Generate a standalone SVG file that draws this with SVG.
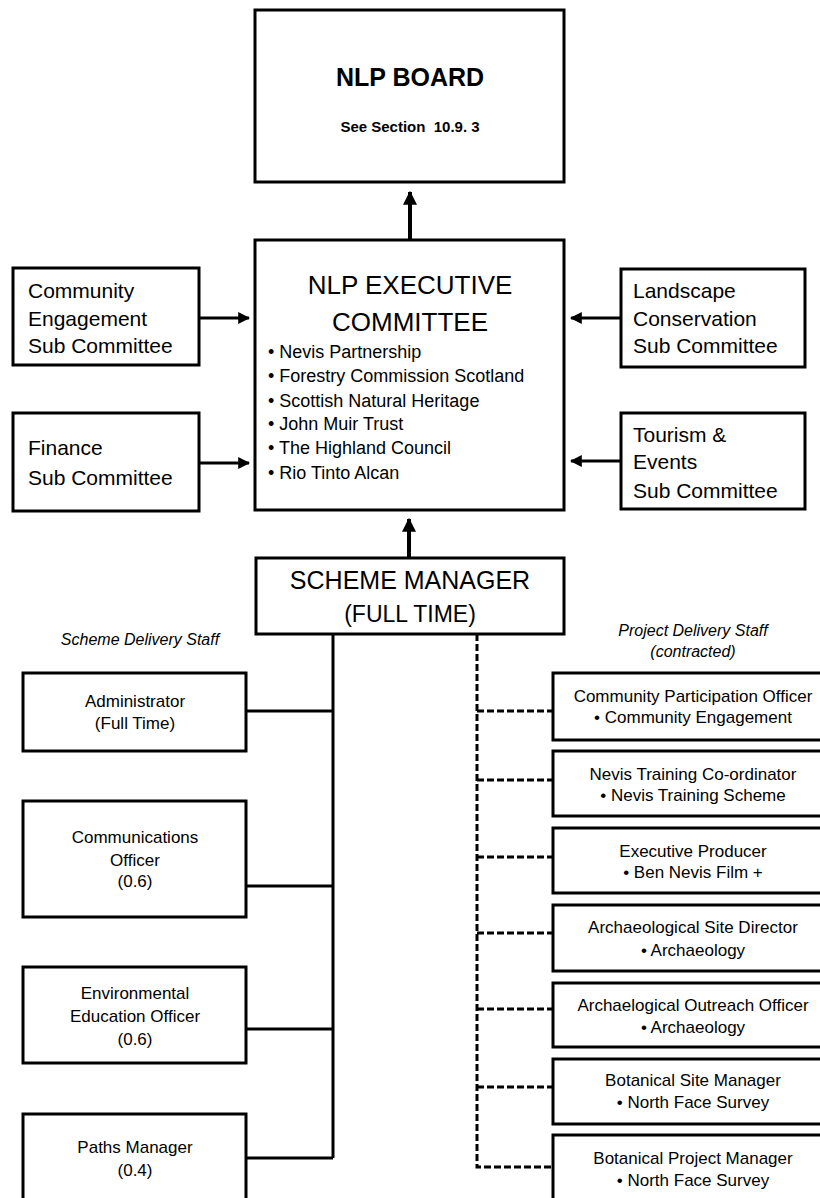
<svg xmlns="http://www.w3.org/2000/svg" width="820" height="1198" viewBox="0 0 820 1198">
<style>
.box{fill:#fff;stroke:#000;stroke-width:3}
.t{font-family:"Liberation Sans",Arial,sans-serif;fill:#000}
.c{text-anchor:middle}
.ln{stroke:#000;stroke-width:3;fill:none}
.dash{stroke:#000;stroke-width:3;fill:none;stroke-dasharray:7 3}
</style>
<defs>
<marker id="ah" markerWidth="4" markerHeight="4" refX="3.6" refY="2" orient="auto" markerUnits="strokeWidth">
<path d="M0,0 L4,2 L0,4 z" fill="#000"/>
</marker>
<marker id="ah2" markerWidth="3.5" markerHeight="3.5" refX="3.2" refY="1.75" orient="auto" markerUnits="strokeWidth">
<path d="M0,0 L3.5,1.75 L0,3.5 z" fill="#000"/>
</marker>
</defs>

<g id="connectors">
<line class="ln" x1="410" y1="240" x2="410" y2="192" style="stroke-width:4" marker-end="url(#ah2)"/>
<line class="ln" x1="409" y1="558" x2="409" y2="519" style="stroke-width:4" marker-end="url(#ah2)"/>
<line class="ln" x1="199" y1="318" x2="249" y2="318" marker-end="url(#ah)"/>
<line class="ln" x1="199" y1="463" x2="249" y2="463" marker-end="url(#ah)"/>
<line class="ln" x1="621" y1="318" x2="571" y2="318" marker-end="url(#ah)"/>
<line class="ln" x1="621" y1="461" x2="571" y2="461" marker-end="url(#ah)"/>
<path class="ln" d="M333,634 V1158 M246,711 H333 M246,886 H333 M246,1029 H333 M246,1158 H333"/>
<path class="dash" d="M477,634 V1167 H553"/>
<path class="dash" d="M477,711 H553 M477,780 H553 M477,857 H553 M477,933 H553 M477,1009 H553 M477,1087 H553"/>
</g>

<g id="board">
<rect class="box" x="255" y="10" width="309" height="172"/>
<text class="t c" x="410" y="86" font-size="25" font-weight="bold">NLP BOARD</text>
<text class="t c" x="410" y="132" font-size="15" font-weight="bold">See Section&#160; 10.9. 3</text>
</g>

<g id="executive">
<rect class="box" x="255" y="240" width="309" height="270"/>
<text class="t c" x="410" y="294" font-size="26">NLP EXECUTIVE</text>
<text class="t c" x="410" y="331" font-size="26">COMMITTEE</text>
<g class="t" font-size="18">
<text x="268" y="358">• Nevis Partnership</text>
<text x="268" y="382">• Forestry Commission Scotland</text>
<text x="268" y="407">• Scottish Natural Heritage</text>
<text x="268" y="430">• John Muir Trust</text>
<text x="268" y="454">• The Highland Council</text>
<text x="268" y="479">• Rio Tinto Alcan</text>
</g>
</g>

<g id="community-sub">
<rect class="box" x="13" y="268" width="186" height="97"/>
<g class="t" font-size="21"><text x="28" y="298">Community</text><text x="28" y="326">Engagement</text><text x="28" y="353">Sub Committee</text></g>
</g>

<g id="finance-sub">
<rect class="box" x="13" y="413" width="186" height="98"/>
<g class="t" font-size="21"><text x="28" y="455">Finance</text><text x="28" y="485">Sub Committee</text></g>
</g>

<g id="landscape-sub">
<rect class="box" x="621" y="269" width="184" height="98"/>
<g class="t" font-size="21"><text x="633" y="298">Landscape</text><text x="633" y="326">Conservation</text><text x="633" y="353">Sub Committee</text></g>
</g>

<g id="tourism-sub">
<rect class="box" x="621" y="413" width="184" height="96"/>
<g class="t" font-size="21"><text x="633" y="442">Tourism &amp;</text><text x="633" y="469">Events</text><text x="633" y="498">Sub Committee</text></g>
</g>

<g id="scheme-manager">
<rect class="box" x="256" y="558" width="308" height="76"/>
<text class="t c" x="410" y="589" font-size="25">SCHEME MANAGER</text>
<text class="t c" x="410" y="622" font-size="23">(FULL TIME)</text>
</g>

<g id="labels" class="t c" font-size="16" font-style="italic">
<text x="140" y="645">Scheme Delivery Staff</text>
<text x="693" y="636">Project Delivery Staff</text>
<text x="693" y="657">(contracted)</text>
</g>

<g id="administrator">
<rect class="box" x="23" y="673" width="223" height="78"/>
<g class="t c" font-size="17"><text x="135" y="707">Administrator</text><text x="135" y="729">(Full Time)</text></g>
</g>
<g id="communications">
<rect class="box" x="23" y="801" width="223" height="116"/>
<g class="t c" font-size="17"><text x="135" y="843">Communications</text><text x="135" y="866">Officer</text><text x="135" y="887">(0.6)</text></g>
</g>
<g id="environmental">
<rect class="box" x="23" y="967" width="223" height="96"/>
<g class="t c" font-size="17"><text x="135" y="999">Environmental</text><text x="135" y="1022">Education Officer</text><text x="135" y="1045">(0.6)</text></g>
</g>
<g id="paths">
<rect class="box" x="23" y="1114" width="223" height="100"/>
<g class="t c" font-size="17"><text x="135" y="1153">Paths Manager</text><text x="135" y="1176">(0.4)</text></g>
</g>

<g id="community-participation">
<rect class="box" x="553" y="673" width="280" height="67"/>
<g class="t c" font-size="17"><text x="693" y="702">Community Participation Officer</text><text x="693" y="723">• Community Engagement</text></g>
</g>
<g id="nevis-training">
<rect class="box" x="553" y="751" width="280" height="65"/>
<g class="t c" font-size="17"><text x="693" y="780">Nevis Training Co-ordinator</text><text x="693" y="801">• Nevis Training Scheme</text></g>
</g>
<g id="executive-producer">
<rect class="box" x="553" y="828" width="280" height="65"/>
<g class="t c" font-size="17"><text x="693" y="857">Executive Producer</text><text x="693" y="878">• Ben Nevis Film +</text></g>
</g>
<g id="arch-site-director">
<rect class="box" x="553" y="905" width="280" height="66"/>
<g class="t c" font-size="17"><text x="693" y="933">Archaeological Site Director</text><text x="693" y="956">• Archaeology</text></g>
</g>
<g id="arch-outreach">
<rect class="box" x="553" y="983" width="280" height="64"/>
<g class="t c" font-size="17"><text x="693" y="1011">Archaelogical Outreach Officer</text><text x="693" y="1033">• Archaeology</text></g>
</g>
<g id="botanical-site">
<rect class="box" x="553" y="1059" width="280" height="65"/>
<g class="t c" font-size="17"><text x="693" y="1086">Botanical Site Manager</text><text x="693" y="1108">• North Face Survey</text></g>
</g>
<g id="botanical-project">
<rect class="box" x="553" y="1135" width="280" height="80"/>
<g class="t c" font-size="17"><text x="693" y="1164">Botanical Project Manager</text><text x="693" y="1186">• North Face Survey</text></g>
</g>
</svg>
